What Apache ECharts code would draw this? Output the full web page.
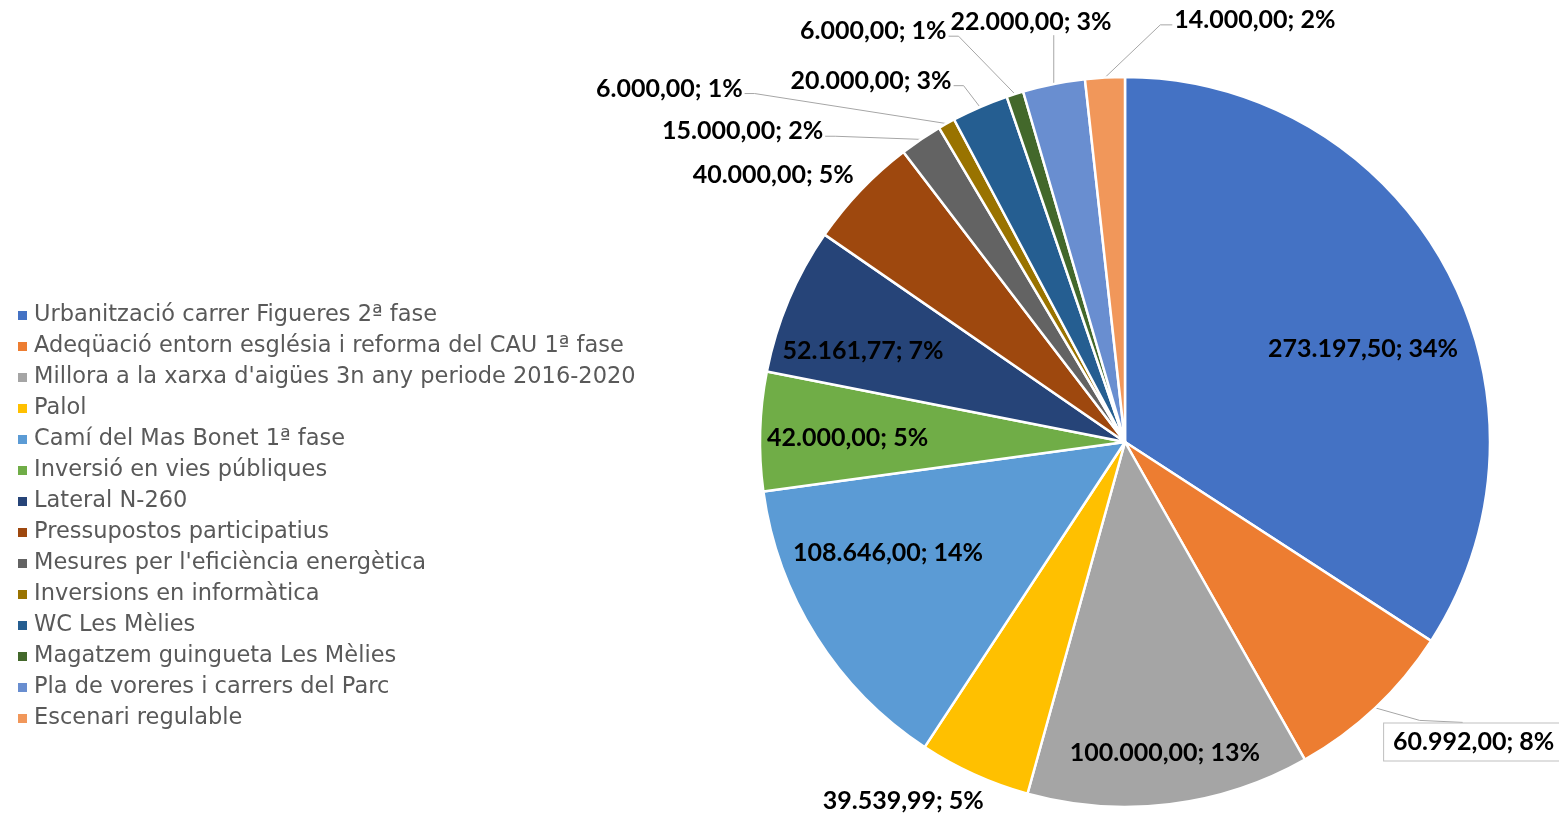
<!DOCTYPE html>
<html>
<head>
<meta charset="utf-8">
<title>Inversions</title>
<script src="https://cdn.jsdelivr.net/npm/echarts@6/dist/echarts.min.js"></script>
<style>
  html, body { margin: 0; padding: 0; background: #fff; }
  #chart { width: 1559px; height: 817px; }
</style>
</head>
<body>
<div id="chart"></div>
<script>
const projectes = [
  'Urbanització carrer Figueres 2ª fase',
  'Adeqüació entorn església i reforma del CAU 1ª fase',
  "Millora a la xarxa d'aigües 3n any periode 2016-2020",
  'Palol',
  'Camí del Mas Bonet 1ª fase',
  'Inversió en vies públiques',
  'Lateral N-260',
  'Pressupostos participatius',
  "Mesures per l'eficiència energètica",
  'Inversions en informàtica',
  'WC Les Mèlies',
  'Magatzem guingueta Les Mèlies',
  'Pla de voreres i carrers del Parc',
  'Escenari regulable'
]
const imports = [273197.5, 60992, 100000, 39539.99, 108646, 42000, 52161.77, 40000, 15000, 6000, 20000, 6000, 22000, 14000]
const colors = ['#4472C4', '#ED7D31', '#A5A5A5', '#FFC000', '#5B9BD5', '#70AD47', '#264478',
  '#9E480E', '#636363', '#997300', '#255E91', '#43682B', '#698ED0', '#F1975A']

// posició de les etiquetes: angle (graus des de les 12h), distància en radis, costat de la línia guia
const labelAngles = [68.7, 130.7, 172.7, 211.7, 244.9, 270.8, 289.2, 307.2, 309.1, 307.8, 324.9, 328.5, 347.4, 17.1]
const labelDist = [0.70, 1.26, 0.86, 1.156, 0.717, 0.76, 0.76, 1.21, 1.35, 1.58, 1.21, 1.32, 1.18, 1.21]
const lineSide = ['', 'top', '', '', '', '', '', '', 'right', 'right', 'right', 'right', 'bottom', 'left']

const CX = 1125, CY = 442, R = 365

const total = imports.reduce((a, b) => a + b, 0)
const midAngles = []
let acc = 0
imports.forEach(v => {
  midAngles.push((acc + v / 2) / total * 360)
  acc += v
})

const fmt = v => {
  const parts = v.toFixed(2).split('.')
  return parts[0].replace(/\B(?=(\d{3})+(?!\d))/g, '.') + ',' + parts[1]
}
const polar = (a, d) => {
  const t = a * Math.PI / 180
  return [CX + d * Math.sin(t), CY - d * Math.cos(t)]
}

const chart = echarts.init(document.getElementById('chart'))

chart.setOption({
  animation: false,
  color: colors,
  legend: {
    orient: 'vertical',
    left: 11,
    top: 295,
    itemWidth: 11,
    itemHeight: 11,
    itemGap: 0,
    icon: 'rect',
    data: projectes,
    textStyle: {
      fontFamily: 'DejaVu Sans',
      fontSize: 22.5,
      color: '#595959',
      lineHeight: 31,
      padding: [0, 0, 0, 1]
    }
  },
  series: [
    {
      type: 'pie',
      center: [CX, CY],
      radius: R,
      startAngle: 90,
      clockwise: true,
      avoidLabelOverlap: false,
      emphasis: { disabled: true },
      itemStyle: { borderColor: '#fff', borderWidth: 2.5 },
      label: {
        show: true,
        position: 'outside',
        fontFamily: 'Lato',
        fontWeight: 'bold',
        fontSize: 25,
        color: '#000',
        formatter: p => fmt(p.value) + '; ' + Math.round(p.percent) + '%'
      },
      labelLine: { show: false, lineStyle: { color: '#a6a6a6', width: 1 } },
      labelLayout: params => {
        const i = params.dataIndex
        const [x, y] = polar(labelAngles[i], labelDist[i] * R)
        const w = params.labelRect.width
        const h = params.labelRect.height
        const res = { x: x, y: y, align: 'center', verticalAlign: 'middle' }
        const side = lineSide[i]
        if (side) {
          const e = polar(midAngles[i], R)
          let p1, p2
          if (side === 'right') {
            p2 = [x + w / 2 + 2, y + 5]
            p1 = [p2[0] + 10, p2[1]]
          } else if (side === 'left') {
            p2 = [x - w / 2 - 2, y + 5]
            p1 = [p2[0] - 12, p2[1]]
          } else if (side === 'bottom') {
            p2 = [e[0], y + h / 2 + 1]
            p1 = p2
          } else {
            p2 = [x - 11, y - h / 2]
            p1 = [x - 54, y - h / 2 - 2]
          }
          res.labelLinePoints = [e, p1, p2]
        }
        return res
      },
      data: imports.map((v, i) => {
        const item = { name: projectes[i], value: v }
        if (lineSide[i]) item.labelLine = { show: true }
        if (i === 1) {
          item.label = {
            backgroundColor: '#fff',
            borderColor: '#bfbfbf',
            borderWidth: 1,
            padding: [6, 9]
          }
        }
        return item
      })
    }
  ]
})
</script>
</body>
</html>
